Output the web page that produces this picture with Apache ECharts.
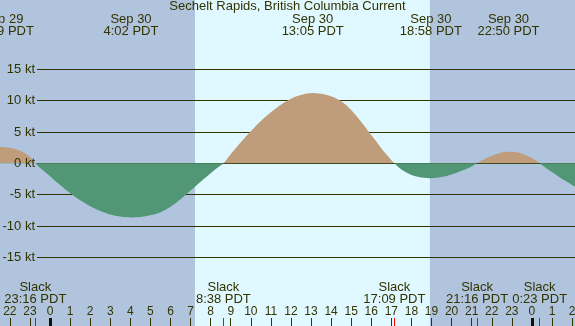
<!DOCTYPE html>
<html><head><meta charset="utf-8">
<script src="https://cdn.jsdelivr.net/npm/echarts@6/dist/echarts.min.js"></script>
<style>html,body{margin:0;padding:0;background:#b0c4de}#c{width:575px;height:326px}</style>
</head><body><div id="c"></div>
<script>
const chartTitle = 'Sechelt Rapids, British Columbia Current';
// hours relative to Sep 30 00:00 PDT
const times = [-2.49, -2.35, -2.0, -1.5, -1.25, -1.0, -0.733,
  -0.4, 0, 0.5, 1.0, 1.5, 2.0, 2.5, 3.0, 3.5, 4.033, 4.5, 5.0, 5.5, 6.0, 6.5, 7.0, 7.5, 8.0, 8.3, 8.633,
  9.0, 9.5, 10.0, 10.5, 11.0, 11.5, 12.0, 12.5, 13.083, 13.5, 14.0, 14.5, 15.0, 15.5, 16.0, 16.5, 16.8, 17.15,
  17.5, 18.0, 18.5, 18.967, 19.5, 20.0, 20.5, 21.0, 21.267,
  21.6, 22.0, 22.4, 22.833, 23.3, 23.7, 24.0, 24.383,
  24.75, 25.0, 25.5, 26.145];
// current speed, knots (flood +, ebb -)
const speeds = [2.6, 2.62, 2.5, 2.05, 1.6, 1.0, 0,
  -1.0, -2.05, -3.45, -4.75, -5.9, -6.85, -7.6, -8.15, -8.5, -8.65, -8.58, -8.3, -7.8, -6.95, -5.75, -4.35, -2.95, -1.6, -0.8, 0,
  1.45, 3.35, 5.1, 6.75, 8.15, 9.35, 10.3, 10.9, 11.2, 11.1, 10.7, 9.9, 8.5, 6.6, 4.5, 2.4, 1.25, 0,
  -1.0, -1.85, -2.25, -2.37, -2.2, -1.8, -1.2, -0.5, 0,
  0.6, 1.2, 1.65, 1.84, 1.72, 1.3, 0.85, 0,
  -0.85, -1.4, -2.5, -3.7];
const hourTicks = [-2, -1, 0, 1, 2, 3, 4, 5, 6, 7, 8, 9, 10, 11, 12, 13, 14, 15, 16, 17, 18, 19, 20, 21, 22, 23, 24, 25, 26];
const midnightTicks = [0, 24];
const slackTimes = [-0.733, 8.633, 17.15, 21.267, 24.383];
const slackLabels = ['Slack\n23:16 PDT', 'Slack\n8:38 PDT', 'Slack\n17:09 PDT', 'Slack\n21:16 PDT', 'Slack\n0:23 PDT'];
const peakTimes = [-2.35, 4.033, 13.083, 18.967, 22.833];
const peakLabels = ['Sep 29\n21:39 PDT', 'Sep 30\n4:02 PDT', 'Sep 30\n13:05 PDT', 'Sep 30\n18:58 PDT', 'Sep 30\n22:50 PDT'];
const dayBands = [[7.22, 18.92]];
const speedTicks = { min: -15, max: 15, step: 5 };

const X_MIN = -2.49, X_MAX = 26.145;
const TXT = '#333300';
const FONT = 'Liberation Sans';
const FLOOD = '#bf9d7b', EBB = '#519675';

function lookup(ts, labels, v) {
  let b = 0;
  for (let i = 0; i < ts.length; i++) if (Math.abs(ts[i] - v) < Math.abs(ts[b] - v)) b = i;
  return labels[b];
}

const chart = echarts.init(document.getElementById('c'), null, { renderer: 'canvas' });
const baseX = { type: 'value', gridIndex: 1, min: X_MIN, max: X_MAX, splitLine: { show: false }, axisLine: { show: false, onZero: false } };

chart.setOption({
  animation: false,
  backgroundColor: '#b0c4de',
  textStyle: { fontFamily: FONT },
  title: { text: chartTitle, left: 'center', top: 0, padding: 0, textStyle: { fontFamily: FONT, fontSize: 13, fontWeight: 'normal', color: TXT } },
  grid: [
    { left: 37, right: 0, top: 69.3, height: 188, containLabel: false, outerBoundsMode: 'none' },
    { left: 0, right: 0, top: 0, bottom: 0, containLabel: false, outerBoundsMode: 'none' }
  ],
  xAxis: [
    { type: 'value', gridIndex: 0, min: 0, max: 1, show: false },
    Object.assign({}, baseX, {
      position: 'bottom', z: 5,
      axisTick: { show: true, inside: true, length: 8, customValues: hourTicks, lineStyle: { color: TXT, width: 1 } },
      axisLabel: { show: true, inside: true, margin: 14.3, verticalAlign: 'middle', customValues: hourTicks, color: TXT, fontSize: 12, fontFamily: FONT,
        formatter: v => String(((Math.round(v) % 24) + 24) % 24) }
    }),
    Object.assign({}, baseX, {
      position: 'bottom', z: 6,
      axisTick: { show: true, inside: true, length: 8, customValues: midnightTicks, lineStyle: { color: '#111100', width: 3 } },
      axisLabel: { show: false }
    }),
    Object.assign({}, baseX, {
      position: 'bottom', z: 6,
      axisTick: { show: true, inside: true, length: 8, customValues: slackTimes, lineStyle: { color: '#ff0000', width: 1 } },
      axisLabel: { show: true, inside: true, margin: 32.8, verticalAlign: 'middle', lineHeight: 12, customValues: slackTimes, color: TXT, fontSize: 13, fontFamily: FONT,
        formatter: v => lookup(slackTimes, slackLabels, v) }
    }),
    Object.assign({}, baseX, {
      position: 'top', z: 6,
      axisTick: { show: false },
      axisLabel: { show: true, inside: true, margin: 25.5, verticalAlign: 'middle', lineHeight: 12, customValues: peakTimes, color: TXT, fontSize: 13, fontFamily: FONT,
        formatter: v => lookup(peakTimes, peakLabels, v) }
    })
  ],
  yAxis: [
    { type: 'value', gridIndex: 0, position: 'left', min: speedTicks.min, max: speedTicks.max, interval: speedTicks.step, z: 2,
      axisLine: { show: false, onZero: false }, axisTick: { show: false }, axisLabel: { show: false },
      splitLine: { show: true, lineStyle: { color: TXT, width: 1 } } },
    { type: 'value', gridIndex: 0, position: 'left', min: speedTicks.min, max: speedTicks.max, interval: speedTicks.step, z: 6,
      axisLine: { show: false, onZero: false }, axisTick: { show: false }, splitLine: { show: false },
      axisLabel: { show: true, margin: 2, formatter: '{value} kt', color: TXT, fontSize: 13, fontFamily: FONT } },
    { type: 'value', gridIndex: 1, position: 'left', min: -25.96, max: 26.06, show: false }
  ],
  series: [{
    type: 'line', xAxisIndex: 1, yAxisIndex: 2, z: 3,
    data: times.map((t, i) => [t, speeds[i]]),
    smooth: 0.35, symbol: 'none',
    lineStyle: { width: 0, opacity: 0 },
    areaStyle: { opacity: 1, color: FLOOD },
    markArea: {
      silent: true,
      itemStyle: { color: '#e0f8ff' },
      data: dayBands.map(b => [{ xAxis: b[0] }, { xAxis: b[1] }])
    }
  }]
});

// colour the area by sign: sharp stop at the pixel of 0 kt
const zeroPx = chart.convertToPixel({ yAxisIndex: 2 }, 0);
const H = chart.getHeight();
const f = zeroPx / H;
chart.setOption({
  series: [{
    areaStyle: {
      opacity: 1,
      color: new echarts.graphic.LinearGradient(0, 0, 0, H, [
        { offset: 0, color: FLOOD }, { offset: f, color: FLOOD },
        { offset: f, color: EBB }, { offset: 1, color: EBB }
      ], true)
    }
  }]
});
</script></body></html>
